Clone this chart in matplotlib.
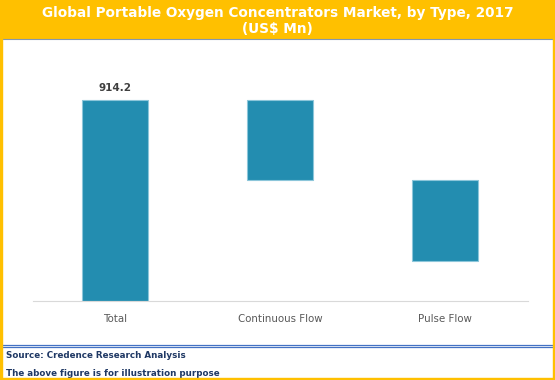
import numpy as np
import matplotlib
matplotlib.use('Agg')
import matplotlib.pyplot as plt
from matplotlib.patches import Rectangle
from matplotlib.lines import Line2D

# waterfall data (US$ Mn)
categories = ['Total', 'Continuous Flow', 'Pulse Flow']
total = 914.2
segments = [363.0, 368.0]

title = 'Global Portable Oxygen Concentrators Market, by Type, 2017\n(US$ Mn)'
notes = ['Source: Credence Research Analysis',
         'The above figure is for illustration purpose']

W, H = 555, 380
fig = plt.figure(figsize=(W / 100, H / 100), dpi=100)
fig.patch.set_facecolor('white')

yellow = '#FFC000'
navy = '#1F3864'


def px(x, y, w, h):
    # rectangle in pixel units from top-left -> figure fraction
    return (x / W, 1 - (y + h) / H, w / W, h / H)


# yellow frame + title band
band = px(0, 0, W, 38)
fig.add_artist(Rectangle(band[:2], band[2], band[3],
                         transform=fig.transFigure, color=yellow, zorder=0))
for r in [px(0, 0, 2, H), px(W - 2, 0, 2, H), px(0, H - 2, W, 2)]:
    fig.add_artist(Rectangle(r[:2], r[2], r[3], transform=fig.transFigure,
                             color=yellow, zorder=5))
fig.add_artist(Line2D([2 / W, 1 - 2 / W], [1 - 38.5 / H] * 2, transform=fig.transFigure,
                      color='#8497B0', lw=0.8))
for yy in [344.7, 346.9]:
    fig.add_artist(Line2D([2 / W, 1 - 2 / W], [1 - yy / H] * 2, transform=fig.transFigure,
                          color='#4472C4', lw=0.9))

fig.text(0.5, 1 - 21 / H, title, ha='center', va='center', color='white',
         fontsize=9.8, fontweight='bold', family='DejaVu Sans', linespacing=1.2)
fig.text(6 / W, 1 - 356 / H, notes[0], ha='left', va='center', color=navy,
         fontsize=6.3, fontweight='bold', family='DejaVu Sans')
fig.text(6 / W, 1 - 374 / H, notes[1], ha='left', va='center', color=navy,
         fontsize=6.3, fontweight='bold', family='DejaVu Sans')

# chart axes
ax = fig.add_axes([32.5 / W, (H - 301) / H, 495 / W, 242.4 / H])
ax.set_xlim(-0.5, 2.5)
ax.set_ylim(0, 1100)

heights = [total] + segments
bottoms = [0]
level = total
for s in segments:
    level -= s
    bottoms.append(level)

x = np.arange(len(categories))
ax.bar(x, heights, bottom=bottoms, width=0.4, color='#238DB0',
       edgecolor='#8CC6DA', linewidth=0.8, zorder=2)
ax.text(x[0], total + 28, f'{total:.1f}', ha='center', va='bottom',
        fontsize=7.5, fontweight='bold', color='#404040', family='DejaVu Sans')

ax.set_xticks(x)
ax.set_xticklabels(categories, fontsize=7.4, color='#595959', family='DejaVu Sans')
ax.tick_params(axis='x', length=0, pad=9)
ax.set_yticks([])
for side in ['top', 'left', 'right']:
    ax.spines[side].set_visible(False)
ax.spines['bottom'].set_color('#D9D9D9')
ax.spines['bottom'].set_linewidth(0.8)
ax.patch.set_alpha(0)

fig.savefig('out.png', dpi=100)
